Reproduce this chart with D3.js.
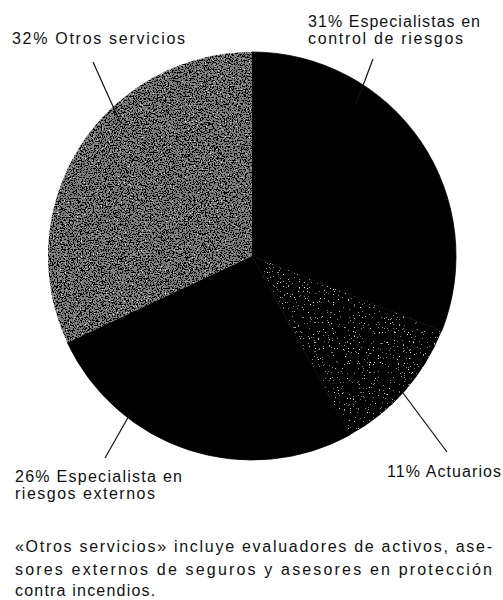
<!DOCTYPE html>
<html>
<head>
<meta charset="utf-8">
<script src="https://cdn.jsdelivr.net/npm/d3@7"></script>
<style>
  html, body { margin: 0; padding: 0; background: #fff; }
  svg { display: block; }
  text { font-family: "Liberation Sans", Arial, sans-serif; fill: #111; }
</style>
</head>
<body>
<svg id="chart" width="503" height="600"></svg>
<script>
// ---- data ----
const categories = ["Especialistas en control de riesgos", "Actuarios", "Especialista en riesgos externos", "Otros servicios"];
const values = [31, 11, 26, 32];
const textures = ["solid", "actuarios", "solid", "otros"];
const labelLines = [
  ["31% Especialistas en", "control de riesgos"],
  ["11% Actuarios"],
  ["26% Especialista en", "riesgos externos"],
  ["32% Otros servicios"]
];
const footnoteLines = [
  "«Otros servicios» incluye evaluadores de activos, ase-",
  "sores externos de seguros y asesores en protección",
  "contra incendios."
];

// ---- layout ----
const W = 503, H = 600;
const cx = 252, cy = 256, R = 204;
const labelLayout = [
  { x: 308, y: 27, dy: 17, widths: [172, 155], leader: [[373, 59], [356, 104]] },
  { x: 387, y: 477, dy: 17, widths: [114], leader: [[447, 452], [403, 393]] },
  { x: 15, y: 482, dy: 17, widths: [167, 140], leader: [[105, 458], [130, 414]] },
  { x: 12, y: 44, dy: 17, widths: [173], leader: [[93, 62], [120, 122]] }
];

const svg = d3.select("#chart");
const defs = svg.append("defs");

function noiseFilter(id, table, freq, seed) {
  const f = defs.append("filter").attr("id", id)
    .attr("x", "0%").attr("y", "0%").attr("width", "100%").attr("height", "100%")
    .attr("color-interpolation-filters", "sRGB");
  f.append("feTurbulence").attr("type", "fractalNoise")
    .attr("baseFrequency", freq).attr("numOctaves", 2).attr("seed", seed).attr("result", "n");
  f.append("feColorMatrix").attr("in", "n").attr("type", "matrix")
    .attr("values", "1 0 0 0 0  1 0 0 0 0  1 0 0 0 0  0 0 0 0 1").attr("result", "g");
  const ct = f.append("feComponentTransfer").attr("in", "g").attr("result", "t");
  ["feFuncR", "feFuncG", "feFuncB"].forEach(fn =>
    ct.append(fn).attr("type", "discrete").attr("tableValues", table));
  ct.append("feFuncA").attr("type", "identity");
  f.append("feComposite").attr("in", "t").attr("in2", "SourceGraphic").attr("operator", "in");
}
// Otros: dense grey speckle
noiseFilter("tex-otros",
  "0 0 0 0 0 0 0 0 0 0.4 0.45 0.5 0.55 0.6 0.65 0.85 1 1 1 1", 0.75, 7);
// Actuarios: black with sparse speckles
noiseFilter("tex-actuarios",
  "0 0 0 0 0 0 0 0 0 0 0 0 0 0 0.5 0.75 1 1 1 1", 0.8, 3);

const pie = d3.pie().value(d => d).sort(null).startAngle(0).endAngle(2 * Math.PI);
const arcs = pie(values);
const arc = d3.arc().innerRadius(0).outerRadius(R);

const g = svg.append("g").attr("transform", `translate(${cx},${cy})`);
arcs.forEach((a, i) => {
  const p = g.append("path").attr("d", arc(a)).attr("fill", "#000");
  if (textures[i] === "otros") p.attr("filter", "url(#tex-otros)");
  else if (textures[i] === "actuarios") p.attr("filter", "url(#tex-actuarios)");
  else p.attr("stroke", "#000").attr("stroke-width", 0.8);
});

// leader lines and labels
const line = d3.line();
labelLayout.forEach((L, i) => {
  svg.append("path").attr("d", line(L.leader))
    .attr("stroke", "#111").attr("stroke-width", 1.2).attr("fill", "none");
  labelLines[i].forEach((t, j) => {
    svg.append("text")
      .attr("x", L.x).attr("y", L.y + j * L.dy)
      .attr("font-size", 16)
      .attr("textLength", L.widths[j]).attr("lengthAdjust", "spacing")
      .text(t);
  });
});

// footnote
const fnY = [552, 575, 596];
footnoteLines.forEach((t, j) => {
  const tx = svg.append("text").attr("x", 15).attr("y", fnY[j])
    .attr("font-size", 16).text(t);
  if (j < footnoteLines.length - 1) tx.attr("textLength", 477).attr("lengthAdjust", "spacing");
  else tx.attr("letter-spacing", 1.2);
});
</script>
</body>
</html>
